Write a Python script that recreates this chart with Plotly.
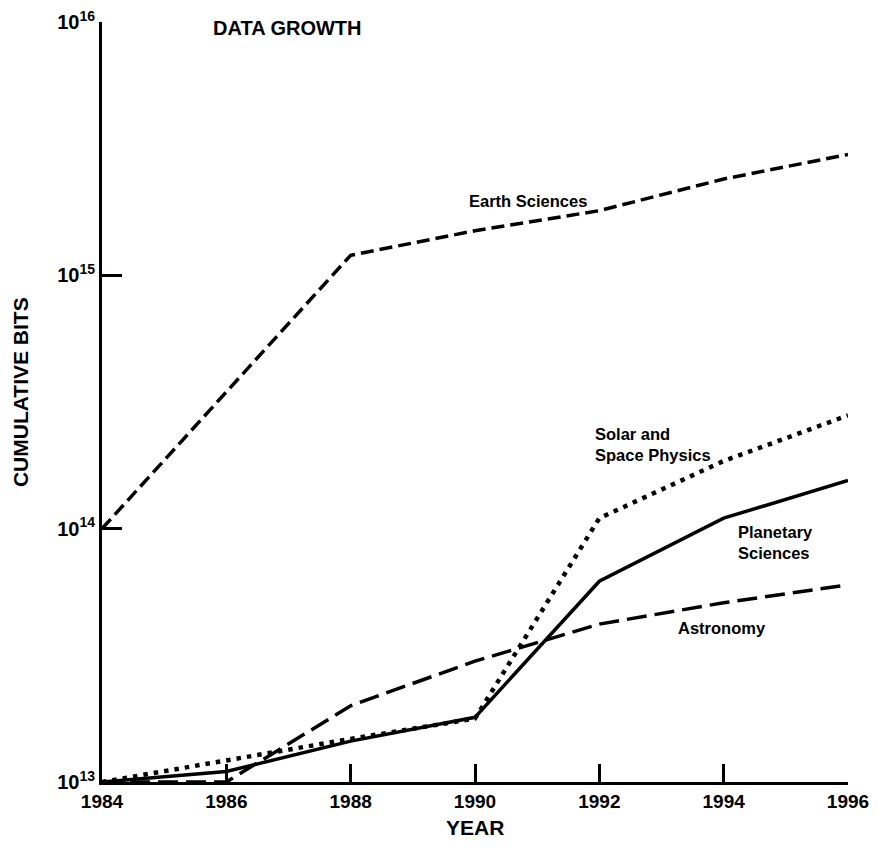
import plotly.graph_objects as go

# ---- data ----
years_earth = [1984, 1988, 1990, 1992, 1994, 1996]
earth_sciences = [1.0e14, 1.2e15, 1.5e15, 1.8e15, 2.4e15, 3.0e15]

years = [1984, 1986, 1988, 1990, 1992, 1994, 1996]
solar_space = [1.0e13, 1.22e13, 1.48e13, 1.78e13, 1.1e14, 1.85e14, 2.8e14]
planetary = [1.0e13, 1.1e13, 1.45e13, 1.8e13, 6.2e13, 1.1e14, 1.55e14]
astronomy = [1.0e13, 1.0e13, 2.0e13, 3.0e13, 4.2e13, 5.1e13, 6.0e13]

x_ticks = [1984, 1986, 1988, 1990, 1992, 1994, 1996]
x_ticktext = ["<b>%d</b>" % v for v in x_ticks]
y_ticks = [1e13, 1e14, 1e15, 1e16]
y_ticktext = ["<b>10<sup>13</sup></b>", "<b>10<sup>14</sup></b>",
              "<b>10<sup>15</sup></b>", "<b>10<sup>16</sup></b>"]

FONT = "Liberation Sans"
BLACK = "#000000"

fig = go.Figure()

fig.add_trace(go.Scatter(x=years_earth, y=earth_sciences, mode="lines",
                         line=dict(color=BLACK, width=3.5, dash="13px,6px"),
                         cliponaxis=False, showlegend=False))
fig.add_trace(go.Scatter(x=years, y=astronomy, mode="lines",
                         line=dict(color=BLACK, width=3.5, dash="20px,8px"),
                         cliponaxis=False, showlegend=False))
fig.add_trace(go.Scatter(x=years, y=planetary, mode="lines",
                         line=dict(color=BLACK, width=3.5),
                         cliponaxis=False, showlegend=False))
fig.add_trace(go.Scatter(x=years, y=solar_space, mode="lines",
                         line=dict(color=BLACK, width=4.5, dash="4.5px,6px"),
                         cliponaxis=False, showlegend=False))

lab = dict(family=FONT, size=16.5, color=BLACK)
annotations = [
    dict(text="<b>DATA GROWTH</b>", x=1985.75, y=15.976, xanchor="left", yanchor="middle",
         font=dict(family=FONT, size=20, color=BLACK)),
    dict(text="<b>Earth Sciences</b>", x=1990.85, y=15.293, xanchor="center", yanchor="middle", font=lab),
    dict(text="<b>Solar and<br>Space Physics</b>", x=1991.9, y=14.334, xanchor="left", yanchor="middle",
         align="left", font=lab),
    dict(text="<b>Planetary<br>Sciences</b>", x=1994.2, y=13.947, xanchor="left", yanchor="middle",
         align="left", font=lab),
    dict(text="<b>Astronomy</b>", x=1993.97, y=13.608, xanchor="center", yanchor="middle", font=lab),
]
for a in annotations:
    a.update(xref="x", yref="y", showarrow=False)

annotations += [
    dict(text="<b>YEAR</b>", x=1990, xref="x", y=-0.06, yref="paper", showarrow=False,
         xanchor="center", yanchor="middle", font=dict(family=FONT, size=21, color=BLACK)),
    dict(text="<b>CUMULATIVE BITS</b>", x=-0.11, xref="paper", y=0.513, yref="paper",
         showarrow=False, textangle=-90, xanchor="center", yanchor="middle",
         font=dict(family=FONT, size=21, color=BLACK)),
]

fig.update_layout(
    width=870, height=830,
    margin=dict(l=94, r=30, t=14, b=56, autoexpand=False),
    paper_bgcolor="white", plot_bgcolor="white",
    font=dict(family=FONT, color=BLACK),
    annotations=annotations,
    xaxis=dict(range=[1984, 1996], tickvals=x_ticks, ticktext=x_ticktext, ticks="inside",
               ticklen=18, tickwidth=2.5, tickcolor=BLACK, showline=True, linewidth=3,
               linecolor=BLACK, showgrid=False, zeroline=False, ticklabeloverflow="allow",
               automargin=False,
               tickfont=dict(family=FONT, size=19, color=BLACK)),
    yaxis=dict(type="log", range=[13, 16], tickvals=y_ticks, ticktext=y_ticktext,
               ticks="inside", ticklen=20, tickwidth=2.5, tickcolor=BLACK,
               showline=True, linewidth=3, linecolor=BLACK, showgrid=False, zeroline=False,
               ticklabeloverflow="allow", automargin=False,
               tickfont=dict(family=FONT, size=20, color=BLACK)),
)

fig.write_html("out.html")
